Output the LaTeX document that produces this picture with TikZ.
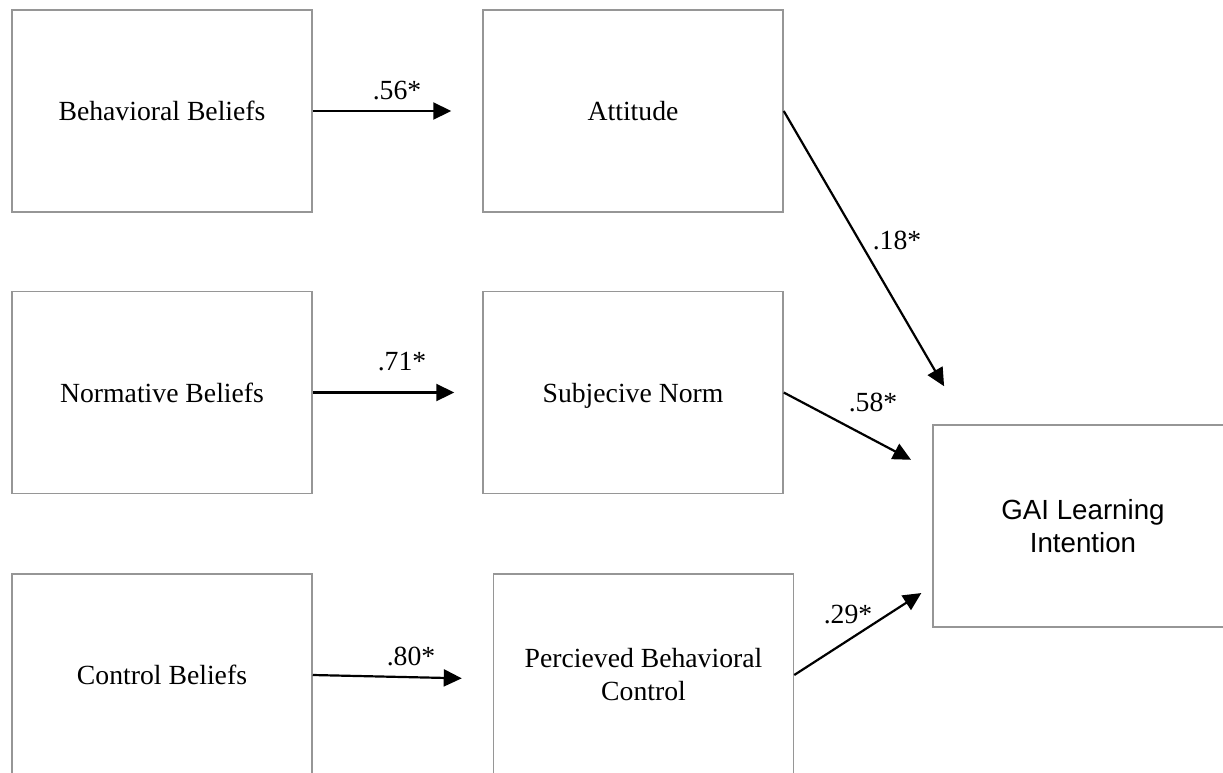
\documentclass[tikz,border=0pt]{standalone}
\usepackage{fontspec}
\setmainfont{Liberation Serif}
\newfontfamily\arialfont{Liberation Sans}
\usetikzlibrary{arrows.meta}
\definecolor{boxgray}{RGB}{150,150,150}
\tikzset{
  box/.style={draw=boxgray, line width=1.5pt, minimum width=300pt, minimum height=202pt,
    inner sep=0pt, align=center, font=\fontsize{27.7}{33}\selectfont},
  link/.style={line width=2.2pt, -{Triangle[length=18pt,width=17pt]}},
  coef/.style={inner sep=0pt, font=\fontsize{27.7}{33}\selectfont}
}
\begin{document}
\begin{tikzpicture}[x=1pt,y=-1pt]
\useasboundingbox (0,0) rectangle (1223,772);
\clip (0,0) rectangle (1223,772);
\node[box] (bb) at (162,111) {Behavioral Beliefs};
\node[box] (att) at (633,111) {Attitude};
\node[box] (nb) at (162,392.5) {Normative Beliefs};
\node[box, text depth=0pt] (sn) at (633,392.5) {Subjecive Norm};
\node[box] (cb) at (162,675) {Control Beliefs};
\node[box] (pbc) at (643.5,675) {Percieved Behavioral\\Control};
\node[box, font=\arialfont\fontsize{27.7}{33}\selectfont] (gai) at (1083,526) {GAI Learning\\Intention};

\draw[link, shorten >=31pt] (bb.east) -- (att.west);
\draw[link, shorten >=28pt] (nb.east) -- (sn.west);
\draw[link, shorten >=31pt] (cb.east) -- ([yshift=-4pt]pbc.west);
\draw[link, shorten >=44pt] (att.east) -- ([xshift=34pt]gai.north west);
\draw[link, shorten >=24pt] (sn.east) -- ([yshift=55pt]gai.west);
\draw[link, shorten >=13pt] (pbc.east) -- ([yshift=-60pt]gai.west);

\node[coef] (c1) at (397,91) {.56*};
\node[coef] (c2) at (402,362) {.71*};
\node[coef] (c3) at (411,656) {.80*};
\node[coef] (c4) at (897,240) {.18*};
\node[coef] (c5) at (873,402) {.58*};
\node[coef] (c6) at (848,615) {.29*};
\end{tikzpicture}
\end{document}
